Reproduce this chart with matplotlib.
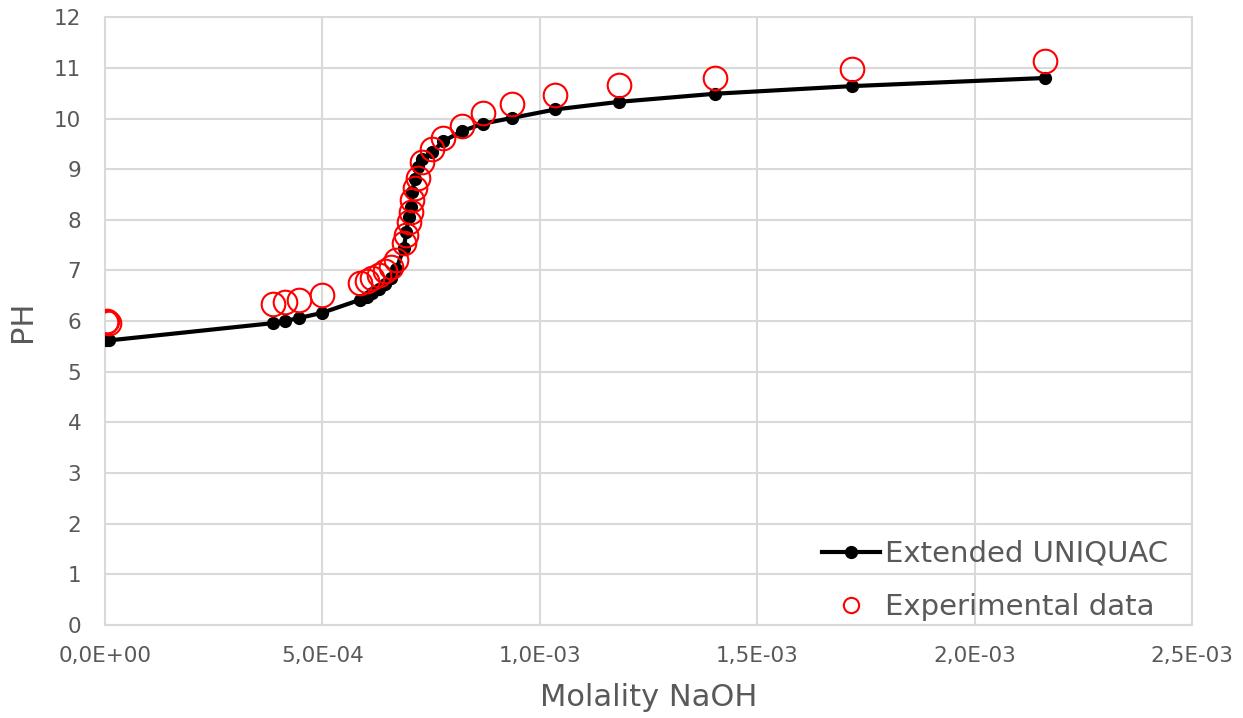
import numpy as np
import matplotlib.pyplot as plt
from matplotlib.lines import Line2D
from matplotlib.ticker import FuncFormatter, MultipleLocator

# Molality NaOH (mol/kg) and pH
molality = [2e-6, 5e-6, 1.0e-5, 3.86e-4, 4.13e-4, 4.45e-4, 4.98e-4, 5.86e-4, 6.02e-4,
            6.15e-4, 6.29e-4, 6.43e-4, 6.57e-4, 6.70e-4, 6.87e-4, 6.93e-4, 6.98e-4,
            7.03e-4, 7.07e-4, 7.12e-4, 7.19e-4, 7.30e-4, 7.51e-4, 7.78e-4, 8.20e-4,
            8.70e-4, 9.35e-4, 1.036e-3, 1.183e-3, 1.404e-3, 1.718e-3, 2.161e-3]
ph_model = [5.62, 5.62, 5.62, 5.96, 6.00, 6.06, 6.16, 6.42, 6.48, 6.56, 6.64, 6.74,
            6.86, 7.02, 7.45, 7.75, 8.05, 8.25, 8.55, 8.80, 9.05, 9.20, 9.33, 9.55,
            9.75, 9.90, 10.01, 10.18, 10.33, 10.49, 10.64, 10.80]
ph_exp = [5.98, 6.00, 5.97, 6.33, 6.37, 6.41, 6.51, 6.75, 6.80, 6.86, 6.92, 6.98,
          7.07, 7.20, 7.55, 7.70, 7.95, 8.15, 8.40, 8.62, 8.82, 9.14, 9.40, 9.62,
          9.85, 10.10, 10.28, 10.46, 10.66, 10.81, 10.97, 11.13]

grey = '#595959'
gridc = '#d9d9d9'

fig = plt.figure(figsize=(12.43, 7.18), dpi=100)
ax = fig.add_axes([0.0845, 0.1295, 0.8745, 0.8465])

ax.plot(molality, ph_model, color='black', lw=3, marker='o', ms=8.5, zorder=3)
ax.plot(molality, ph_exp, ls='none', marker='o', ms=17, mfc='none', mec='red',
        mew=1.5, zorder=4)

ax.set_xlim(0, 2.5e-3)
ax.set_ylim(0, 12)
ax.xaxis.set_major_locator(MultipleLocator(5e-4))
ax.yaxis.set_major_locator(MultipleLocator(1))
ax.xaxis.set_major_formatter(FuncFormatter(lambda v, p: f'{v:.1E}'.replace('.', ',')))
ax.grid(True, color=gridc, lw=1.5)
ax.set_axisbelow(True)
for s in ax.spines.values():
    s.set_color(gridc)
    s.set_linewidth(1.5)
ax.tick_params(length=0, labelsize=15.5, labelcolor=grey)
ax.tick_params(axis='x', pad=15)
ax.tick_params(axis='y', pad=17)

ax.set_xlabel('Molality NaOH', fontsize=22, color=grey, labelpad=12)
ax.set_ylabel('PH', fontsize=22, color=grey, labelpad=12)

handles = [Line2D([], [], color='black', lw=3, marker='o', ms=8.5),
           Line2D([], [], ls='none', marker='o', ms=11, mfc='none', mec='red', mew=1.5)]
ax.legend(handles, ['Extended UNIQUAC', 'Experimental data'], loc='lower right',
          bbox_to_anchor=(0.983, -0.003), frameon=False, fontsize=21, labelcolor=grey,
          handlelength=2.0, handletextpad=0.15, borderaxespad=0.0, borderpad=0.2,
          labelspacing=0.86)

fig.savefig('out.png', dpi=100)
